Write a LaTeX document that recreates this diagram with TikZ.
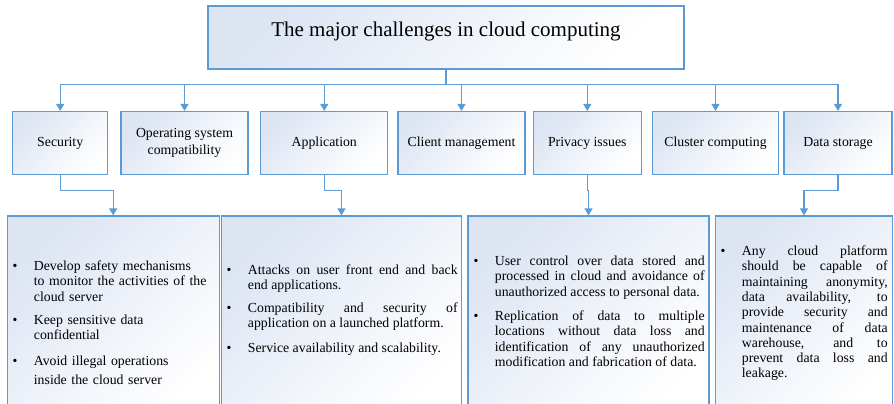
\documentclass[tikz,border=0pt]{standalone}
\usepackage{fontspec}
\setmainfont{Liberation Serif}
\usetikzlibrary{arrows.meta}
\definecolor{bordc}{RGB}{91,155,213}
\definecolor{fillc}{RGB}{221,229,243}
\newcommand\itm[1]{\hangindent=21.2pt\hangafter=1\noindent\makebox[21.2pt][l]{\textbullet}#1\par}
\begin{document}
\begin{tikzpicture}[x=1pt,y=-1pt,
  box/.style={draw=bordc, line width=1.1pt, top color=fillc, bottom color=white, shading angle=45, inner sep=0pt},
  lab/.style={font=\fontsize{13.8}{16.5}\selectfont, align=center},
  conn/.style={draw=bordc, line width=1.1pt, -{Triangle[width=8pt,length=7pt]}},
  list/.style={anchor=base west, inner sep=0pt, font=\fontsize{13.8}{15.3}\selectfont}
]
\useasboundingbox (0,0) rectangle (894,404);
\clip (0,0) rectangle (894,404);
\fill[white] (0,0) rectangle (894,404);

\node[box, minimum width=476pt, text height=30.7pt, text depth=32.3pt, font=\fontsize{21}{25}\selectfont] (title) at (446,37.5) {The major challenges in cloud computing};

\node[box, lab, minimum width=95pt, minimum height=63pt] (sec) at (60.2,143) {Security};
\node[box, lab, minimum width=127pt, minimum height=63pt] (os) at (184.5,143) {Operating system\\compatibility};
\node[box, lab, minimum width=127pt, minimum height=63pt] (app) at (324.3,143) {Application};
\node[box, lab, minimum width=127pt, minimum height=63pt] (cli) at (461.5,143) {Client management};
\node[box, lab, minimum width=108pt, minimum height=63pt] (pri) at (587.3,143) {Privacy issues};
\node[box, lab, minimum width=126.4pt, minimum height=63pt] (clu) at (715.5,143) {Cluster computing};
\node[box, lab, minimum width=108pt, minimum height=63pt] (dat) at (838,143) {Data storage};

\node[box, minimum width=211.7pt, minimum height=204pt] (b1) at (113.2,318) {};
\node[box, minimum width=239.6pt, minimum height=204pt] (b2) at (341.5,318) {};
\node[box, minimum width=241pt, minimum height=204pt] (b3) at (588.5,318) {};
\node[box, minimum width=176.6pt, minimum height=204pt] (b4) at (804,318) {};

\foreach \n in {sec,os,app,cli,pri,clu,dat}
  \draw[conn] (title.south) -- ++(0,15) -| (\n.north);

\draw[conn] (sec.south) -- ++(0,15.5) -| (b1.north);
\draw[conn] (app.south) -- ++(0,15.5) -| (b2.north);
\draw[conn] (pri.south) -- ++(0,15.5) -| (b3.north);
\draw[conn] (dat.south) -- ++(0,15.5) -| (b4.north);

\node[list, text width=194pt, align=left] (t1) at (12.5,270.5) {\setlength\parskip{8pt}%
\itm{Develop safety mechanisms\newline to monitor the activities of the\newline cloud server}
\itm{Keep sensitive data\newline confidential}
\vspace{2pt}
\itm{Avoid illegal operations\newline\rule{0pt}{15.5pt}inside the cloud server}};

\node[list, text width=231pt, align=justify] (t2) at (226.5,274.5) {\setlength\parskip{7pt}%
\itm{Attacks on user front end and back\linebreak end applications.}
\itm{Compatibility and security of\linebreak application on a launched platform.}
\vspace{3pt}
\itm{Service availability and scalability.}};

\node[list, text width=231pt, align=justify] (t3) at (473.5,265.5) {\setlength\parskip{9pt}%
\itm{User control over data stored and\linebreak processed in cloud and avoidance of\linebreak unauthorized access to personal data.}
\itm{Replication of data to multiple\linebreak locations without data loss and\linebreak identification of any unauthorized\linebreak modification and fabrication of data.}};

\node[list, text width=167pt, align=justify] (t4) at (720.5,255.5) {%
\itm{Any cloud platform\linebreak should be capable of\linebreak maintaining anonymity,\linebreak data availability, to\linebreak provide security and\linebreak maintenance of data\linebreak warehouse, and to\linebreak prevent data loss and\linebreak leakage.}};
\end{tikzpicture}
\end{document}
